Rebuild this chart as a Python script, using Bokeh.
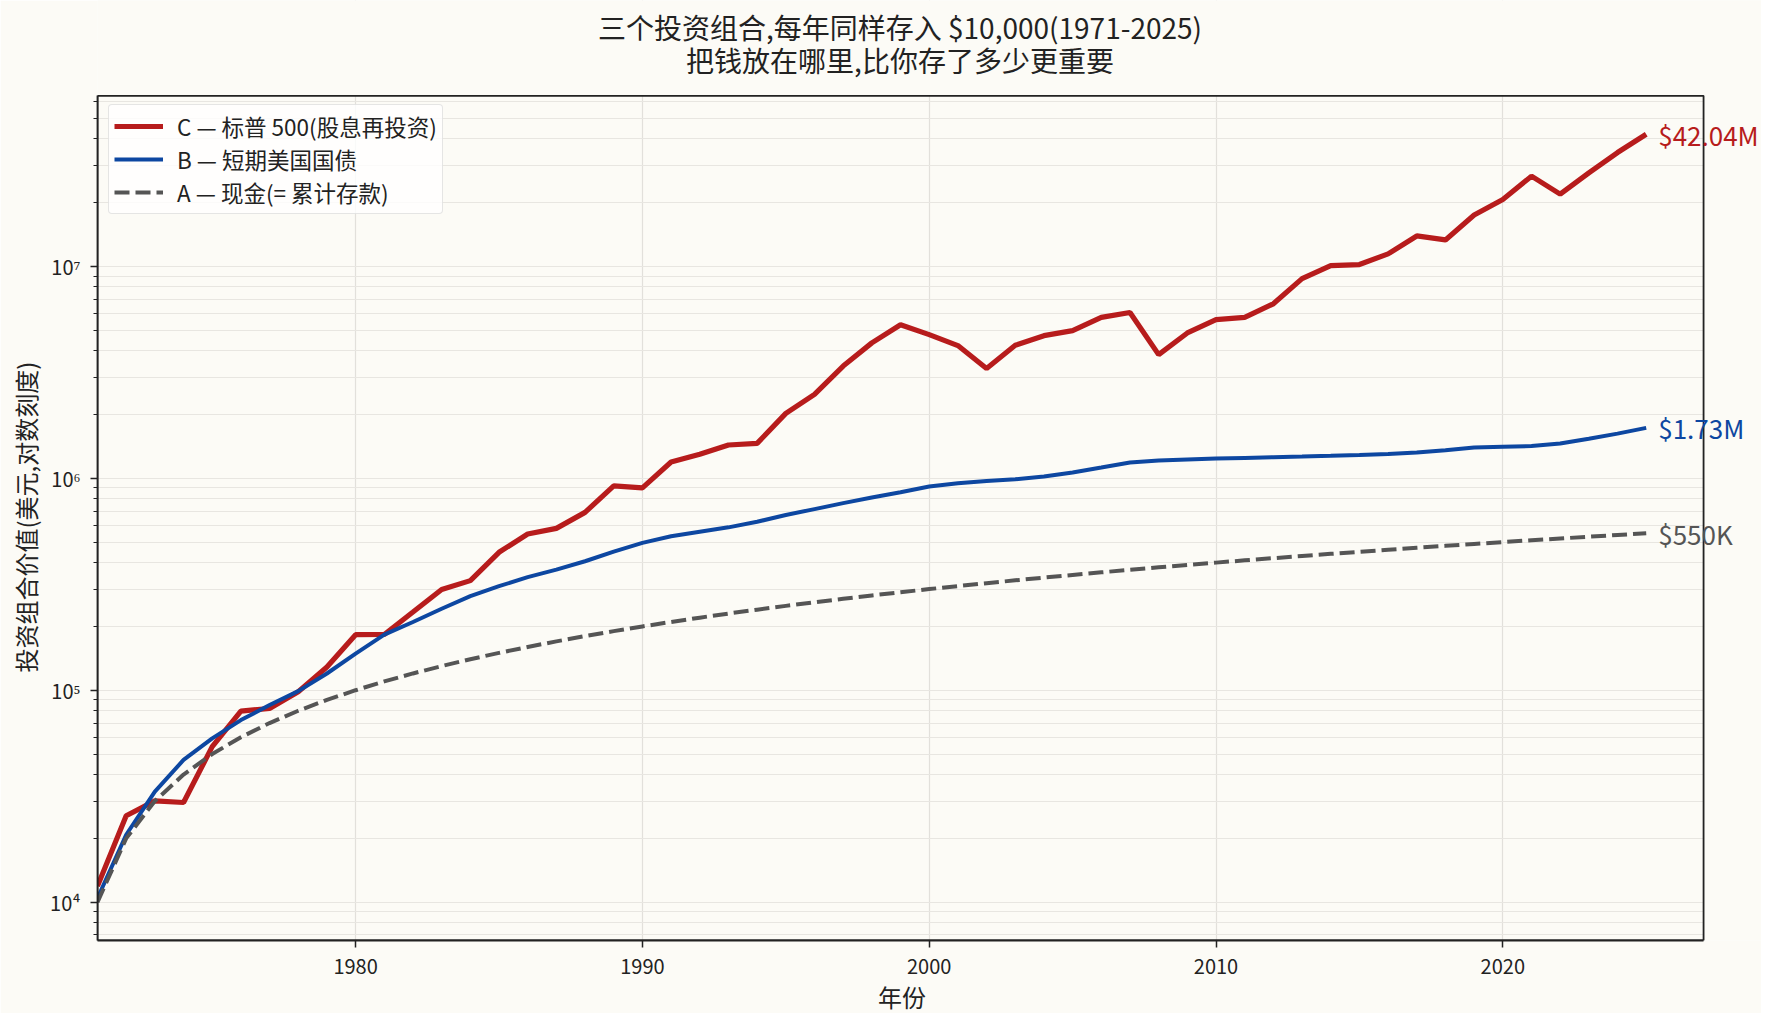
from bokeh.plotting import figure
from bokeh.models import (Range1d, FixedTicker, CustomJSTickFormatter, Legend,
                          LegendItem, Label, Title, BoxAnnotation)
from bokeh.embed import file_html
from bokeh.resources import INLINE

# ---------------- data ----------------
years = list(range(1971, 2026))

# C: S&P 500 (dividends reinvested)
sp500 = [11900, 25570, 30060, 29520, 54170, 79700, 82000, 98300, 128800, 182800,
         183300, 233800, 298600, 329000, 447600, 545900, 580500, 690600, 920900, 901000,
         1194000, 1298000, 1436000, 1462000, 2024000, 2490000, 3384000, 4356000, 5300000, 4765000,
         4229000, 3296000, 4242000, 4710000, 4973000, 5743000, 6062000, 3834000, 4850000, 5603000,
         5743000, 6660000, 8750000, 10086000, 10200000, 11450000, 13920000, 13330000, 17470000, 20700000,
         26650000, 21930000, 27610000, 34440000, 42040000]

# B: short-term US treasury bills
tbills = [10440, 20800, 33260, 46900, 59300, 72300, 85100, 99000, 119900, 148900,
          182800, 209800, 242300, 277900, 309700, 341600, 370600, 406100, 450800, 495500,
          532500, 559700, 586900, 623700, 670800, 715700, 763500, 812100, 860000, 915000,
          948000, 972000, 990000, 1020000, 1065000, 1124000, 1187000, 1213000, 1226000, 1239000,
          1248000, 1257000, 1266000, 1276000, 1287000, 1301000, 1323000, 1358000, 1398000, 1410000,
          1420000, 1458000, 1538000, 1625000, 1730000]

# A: cash (= cumulative deposits)
cash = [10000, 20000, 30000, 40000, 50000, 60000, 70000, 80000, 90000, 100000,
        110000, 120000, 130000, 140000, 150000, 160000, 170000, 180000, 190000, 200000,
        210000, 220000, 230000, 240000, 250000, 260000, 270000, 280000, 290000, 300000,
        310000, 320000, 330000, 340000, 350000, 360000, 370000, 380000, 390000, 400000,
        410000, 420000, 430000, 440000, 450000, 460000, 470000, 480000, 490000, 500000,
        510000, 520000, 530000, 540000, 550000]

series_labels = ["C — 标普 500(股息再投资)", "B — 短期美国国债", "A — 现金(= 累计存款)"]
end_labels = ["$42.04M", "$1.73M", "$550K"]
x_ticks = [1980, 1990, 2000, 2010, 2020]
x_axis_start = 1971
x_axis_end = 2027
y_lo, y_hi = 10 ** 3.819, 10 ** 7.805
y_major = [1e4, 1e5, 1e6, 1e7]
y_minor = [m * 10 ** k for k in range(3, 8) for m in range(2, 10) if y_lo <= m * 10 ** k <= y_hi]

title1 = "三个投资组合,每年同样存入 $10,000(1971-2025)"
title2 = "把钱放在哪里,比你存了多少更重要"
xlabel = "年份"
ylabel = "投资组合价值(美元,对数刻度)"

# ---------------- style ----------------
FONT = "Noto Sans CJK SC"
BG = "#fcfbf6"
RED = "#b71c1c"
BLUE = "#0d47a1"
GRAY = "#555555"
DARK = "#222222"
GRID = "#e8e6e1"
TITLE_X = 802.5        # title centre, px from the frame's left edge

# the frame runs past the axes box (top: room for the title, right: room for end labels)
p = figure(width=1761, height=1013, y_axis_type="log", title=None,
           x_range=Range1d(x_axis_start, 2029.02), y_range=Range1d(y_lo, 10 ** 8.2546),
           output_backend="svg", toolbar_location=None,
           min_border_left=0, min_border_right=0, min_border_bottom=0, min_border_top=0,
           background_fill_color=BG, border_fill_color=BG)

p.outline_line_color = None

for ax in (p.xaxis[0], p.yaxis[0]):
    ax.axis_line_color = DARK
    ax.axis_line_width = 1.8
    ax.major_tick_line_color = DARK
    ax.major_tick_line_width = 1.5
    ax.minor_tick_line_color = DARK
    ax.minor_tick_line_width = 1.2
    ax.major_tick_in = 0
    ax.minor_tick_in = 0
    ax.major_label_text_font = FONT
    ax.major_label_text_font_size = "20px"
    ax.major_label_text_color = DARK

p.xaxis.ticker = FixedTicker(ticks=x_ticks)
p.xaxis.bounds = (x_axis_start, x_axis_end)
p.xaxis.major_tick_out = 7
p.xaxis.minor_tick_out = 0
p.xaxis.major_label_standoff = 11
xl = Title(text=xlabel, align="left", offset=780.5, text_font=FONT,
           text_font_size="24px", text_font_style="normal", text_color=DARK, standoff=0)
p.add_layout(xl, "below")

p.yaxis.ticker = FixedTicker(ticks=y_major, minor_ticks=y_minor)
p.yaxis.bounds = (y_lo, y_hi)
p.yaxis.formatter = CustomJSTickFormatter(code="""
const sup = {"3":"\u00b3","4":"\u2074","5":"\u2075","6":"\u2076","7":"\u2077","8":"\u2078"};
const e = Math.round(Math.log10(tick));
return "10" + sup[String(e)];
""")
p.yaxis.major_tick_out = 7
p.yaxis.minor_tick_out = 4
p.yaxis.major_label_standoff = 10
yl = Title(text=ylabel, align="left", offset=268, text_font=FONT,
           text_font_size="24px", text_font_style="normal", text_color=DARK, standoff=10)
p.add_layout(yl, "left")

p.xgrid.grid_line_color = "#e2e0db"
p.xgrid.grid_line_width = 1.2
p.ygrid.grid_line_color = GRID
p.ygrid.grid_line_width = 1.2
p.ygrid.minor_grid_line_color = GRID
p.ygrid.minor_grid_line_width = 1.2

rC = p.line(years, sp500, line_color=RED, line_width=5.2)
rB = p.line(years, tbills, line_color=BLUE, line_width=4)
rA = p.line(years, cash, line_color=GRAY, line_width=4, line_dash="15 6")

# hide grid outside the axes box, then draw the axes box
p.add_layout(BoxAnnotation(left=x_axis_end, fill_color=BG, fill_alpha=1,
                           line_color=None, level="glyph"))
p.add_layout(BoxAnnotation(bottom=y_hi, fill_color=BG, fill_alpha=1,
                           line_color=None, level="glyph"))
p.add_layout(BoxAnnotation(left=x_axis_start, right=x_axis_end, bottom=y_lo, top=y_hi,
                           fill_alpha=0, fill_color=None,
                           line_color=DARK, line_alpha=1, line_width=1.8))

# two-line title (screen px from the frame's bottom-left)
for txt, ty in ((title1, 913.8), (title2, 880.5)):
    p.add_layout(Label(x=TITLE_X, y=ty, x_units="screen", y_units="screen", text=txt,
                       text_align="center", text_baseline="middle", text_color=DARK,
                       text_font=FONT, text_font_size="28px"))

legend = Legend(items=[LegendItem(label=series_labels[0], renderers=[rC]),
                       LegendItem(label=series_labels[1], renderers=[rB]),
                       LegendItem(label=series_labels[2], renderers=[rA])],
                location=(11, 726.5))
legend.label_text_font = FONT
legend.label_text_font_size = "22.5px"
legend.label_text_color = DARK
legend.glyph_width = 49
legend.glyph_height = 24
legend.label_height = 24
legend.label_standoff = 14
legend.padding = 5
legend.spacing = 1
legend.margin = 0
legend.border_line_color = "#cccccc"
legend.border_line_width = 1.3
legend.background_fill_color = "white"
legend.background_fill_alpha = 0.8
try:
    legend.border_radius = 4
except Exception:
    pass
p.add_layout(legend)

for vals, txt, col in ((sp500, end_labels[0], RED), (tbills, end_labels[1], BLUE),
                       (cash, end_labels[2], GRAY)):
    p.add_layout(Label(x=years[-1], y=vals[-1], text=txt, x_offset=12,
                       text_baseline="middle", text_align="left", text_color=col,
                       text_font=FONT, text_font_size="26px"))

open("out.html", "w").write(file_html(p, INLINE))
